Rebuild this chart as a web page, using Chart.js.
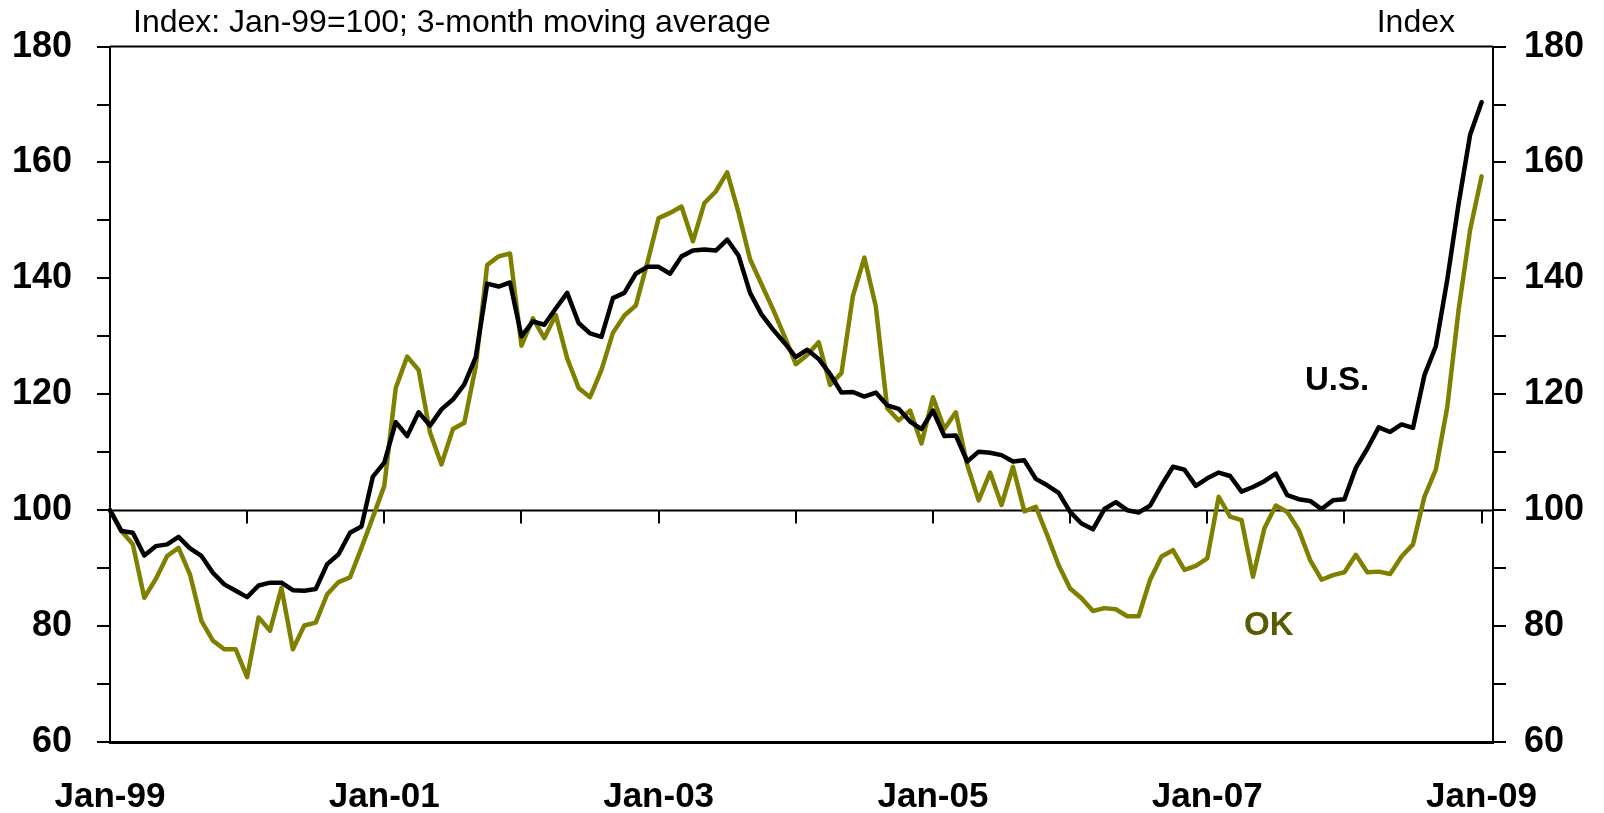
<!DOCTYPE html>
<html>
<head>
<meta charset="utf-8">
<title>U.S. and OK index</title>
<script src="https://cdn.jsdelivr.net/npm/chart.js@4.4.1/dist/chart.umd.min.js"></script>
<style>
  html, body { margin: 0; padding: 0; background: #fff; }
  canvas { display: block; }
</style>
</head>
<body>
<canvas id="indexChart" width="1604" height="813"></canvas>
<script>
// Monthly, Jan-99 .. Jan-09 (index Jan-99 = 100, 3-month moving average)
const years = ['99', '00', '01', '02', '03', '04', '05', '06', '07', '08', '09'];
const monthNames = ['Jan', 'Feb', 'Mar', 'Apr', 'May', 'Jun', 'Jul', 'Aug', 'Sep', 'Oct', 'Nov', 'Dec'];

const usValues = [
    100.0, 96.4, 96.1, 92.2, 93.8, 94.1, 95.4, 93.4, 92.1, 89.2, 87.2, 86.1,
    85.0, 87.0, 87.5, 87.5, 86.2, 86.1, 86.4, 90.7, 92.4, 96.1, 97.2, 105.8,
    108.2, 115.2, 112.8, 116.9, 114.6, 117.4, 119.1, 121.7, 126.4, 139.1, 138.6, 139.3,
    130.0, 132.6, 132.0, 134.8, 137.5, 132.3, 130.5, 129.9, 136.6, 137.5, 140.8, 142.0,
    142.0, 140.8, 143.8, 144.8, 145.0, 144.8, 146.7, 143.9, 137.5, 133.8, 131.2, 128.9,
    126.4, 127.7, 126.1, 123.5, 120.3, 120.4, 119.6, 120.3, 118.1, 117.5, 115.3, 114.0,
    117.2, 112.8, 112.9, 108.4, 110.1, 109.9, 109.5, 108.4, 108.6, 105.4, 104.3, 103.0,
    99.7, 97.7, 96.7, 100.2, 101.4, 100.0, 99.6, 100.8, 104.3, 107.5, 107.0, 104.2,
    105.5, 106.5, 105.9, 103.2, 104.0, 105.0, 106.3, 102.6, 101.9, 101.6, 100.2, 101.7,
    101.9, 107.3, 110.6, 114.3, 113.5, 114.8, 114.2, 123.3, 128.3, 139.8, 153.0, 164.8,
    170.4
];

const okValues = [
    100.0, 96.4, 94.1, 84.9, 88.1, 92.1, 93.5, 88.9, 80.9, 77.5, 76.0, 76.0,
    71.2, 81.5, 79.2, 86.6, 76.0, 80.1, 80.6, 85.5, 87.6, 88.4, 93.5, 98.8,
    104.2, 121.1, 126.5, 124.2, 113.4, 107.9, 114.0, 115.1, 124.8, 142.3, 143.8, 144.3,
    128.4, 133.1, 129.7, 133.7, 126.2, 121.1, 119.5, 124.2, 130.6, 133.6, 135.3, 142.6,
    150.4, 151.3, 152.4, 146.4, 153.0, 155.0, 158.3, 151.3, 143.3, 139.0, 134.7, 130.1,
    125.2, 126.8, 129.0, 121.6, 123.7, 137.0, 143.6, 135.2, 117.6, 115.5, 117.2, 111.5,
    119.5, 114.0, 116.9, 107.8, 101.7, 106.5, 100.9, 107.5, 99.8, 100.6, 95.7, 90.5,
    86.5, 84.8, 82.6, 83.1, 82.9, 81.7, 81.7, 88.0, 92.0, 93.1, 89.7, 90.4,
    91.7, 102.3, 98.9, 98.3, 88.5, 96.9, 100.8, 99.7, 96.6, 91.4, 88.0, 88.8,
    89.3, 92.3, 89.3, 89.4, 89.0, 92.0, 94.1, 102.3, 107.0, 117.8, 134.7, 148.4,
    157.6
];

const xTickLabels = ['Jan-99', 'Jan-01', 'Jan-03', 'Jan-05', 'Jan-07', 'Jan-09'];
const yTicks = [60, 80, 100, 120, 140, 160, 180];

// month categories Jan-99 .. Jan-09, plus one blank slot so the plot runs a bit past the last point
const categories = [];
years.forEach(function(yr, k) {
    monthNames.forEach(function(m) {
        if (categories.length < usValues.length) categories.push(m + '-' + yr);
    });
});
categories.push('');

const FONT = '"Liberation Sans", Arial, sans-serif';
const OLIVE = '#808000';

// the 100 base line with yearly tick marks, plus top frame line
const baseLinePlugin = {
    id: 'baseLine',
    beforeDatasetsDraw(chart) {
        const ctx = chart.ctx;
        const area = chart.chartArea;
        const x = chart.scales.x;
        const y = chart.scales.y;
        const y100 = Math.round(y.getPixelForValue(100)) + 0.5;

        ctx.save();
        ctx.strokeStyle = '#000';
        ctx.lineWidth = 2;
        ctx.beginPath();
        ctx.moveTo(area.left, y100);
        ctx.lineTo(area.right, y100);
        categories.forEach(function(c, i) {
            if (i > 0 && c.indexOf('Jan-') === 0) {
                const px = Math.round(x.getPixelForValue(i));
                ctx.moveTo(px, y100);
                ctx.lineTo(px, y100 + 13);
            }
        });
        ctx.stroke();

        ctx.lineWidth = 2;
        ctx.beginPath();
        ctx.moveTo(area.left, area.top);
        ctx.lineTo(area.right, area.top);
        ctx.stroke();
        ctx.restore();
    },
    afterDraw(chart) {
        const ctx = chart.ctx;
        ctx.save();
        ctx.textBaseline = 'alphabetic';
        ctx.fillStyle = '#000';
        ctx.font = '32px ' + FONT;
        ctx.textAlign = 'left';
        ctx.fillText('Index: Jan-99=100; 3-month moving average', 133, 32);
        ctx.textAlign = 'right';
        ctx.fillText('Index', 1455, 32);

        ctx.font = 'bold 33px ' + FONT;
        ctx.textAlign = 'left';
        ctx.fillText('U.S.', 1305, 390);
        ctx.fillStyle = '#5a5a00';
        ctx.fillText('OK', 1244, 635);
        ctx.restore();
    }
};

function initIndexChart() {
    const ctx = document.getElementById('indexChart').getContext('2d');

    const yAxis = function(position, width, pad) {
        return {
            type: 'linear',
            position: position,
            min: 60,
            max: 180,
            afterFit: function(scale) { scale.width = width; },
            ticks: {
                stepSize: 10,
                padding: pad,
                color: '#000',
                font: { family: FONT, size: 36, weight: 'bold' },
                callback: function(value) {
                    return yTicks.indexOf(value) >= 0 ? value : '';
                }
            },
            grid: {
                drawOnChartArea: false,
                drawTicks: true,
                tickLength: 13,
                color: '#000',
                lineWidth: 2
            },
            border: { display: true, color: '#000', width: 2 }
        };
    };

    new Chart(ctx, {
        type: 'line',
        data: {
            labels: categories,
            datasets: [{
                label: 'U.S.',
                data: usValues,
                borderColor: '#000',
                borderWidth: 4.5,
                pointRadius: 0,
                tension: 0,
                borderJoinStyle: 'round',
                borderCapStyle: 'round',
                yAxisID: 'y'
            }, {
                label: 'OK',
                data: okValues,
                borderColor: OLIVE,
                borderWidth: 4.5,
                pointRadius: 0,
                tension: 0,
                borderJoinStyle: 'round',
                borderCapStyle: 'round',
                yAxisID: 'y'
            }]
        },
        options: {
            responsive: false,
            animation: false,
            layout: { padding: { top: 43, left: 0, right: 0, bottom: 0 } },
            plugins: {
                legend: { display: false },
                tooltip: { enabled: false }
            },
            scales: {
                x: {
                    type: 'category',
                    offset: false,
                    afterFit: function(scale) { scale.height = 71; },
                    ticks: {
                        autoSkip: false,
                        maxRotation: 0,
                        minRotation: 0,
                        padding: 34,
                        color: '#000',
                        font: { family: FONT, size: 35, weight: 'bold' },
                        callback: function(value) {
                            const l = this.getLabelForValue(value);
                            return xTickLabels.indexOf(l) >= 0 ? l : '';
                        }
                    },
                    grid: { display: false, drawTicks: false },
                    border: { display: true, color: '#000', width: 3 }
                },
                y: yAxis('left', 110, 25),
                y2: yAxis('right', 111, 18)
            }
        },
        plugins: [baseLinePlugin]
    });
}

document.addEventListener('DOMContentLoaded', function() {
    initIndexChart();
});
</script>
</body>
</html>
